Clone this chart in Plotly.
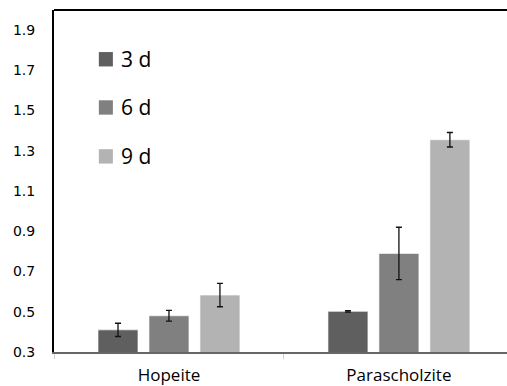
import plotly.graph_objects as go

categories = ["Hopeite", "Parascholzite"]
series_names = ["3 d", "6 d", "9 d"]
values = {
    "3 d": [0.41, 0.502],
    "6 d": [0.48, 0.79],
    "9 d": [0.583, 1.355],
}
errors = {
    "3 d": [0.033, 0.004],
    "6 d": [0.027, 0.13],
    "9 d": [0.058, 0.036],
}
colors = {"3 d": "#5f5f5f", "6 d": "#808080", "9 d": "#b3b3b3"}
y_ticks = [0.3, 0.5, 0.7, 0.9, 1.1, 1.3, 1.5, 1.7, 1.9]

fig = go.Figure()
for name in series_names:
    fig.add_trace(go.Bar(
        x=categories,
        y=values[name],
        name=name,
        marker=dict(color=colors[name], line=dict(color="rgba(255,255,255,0.6)", width=1)),
        error_y=dict(type="data", array=errors[name], visible=True,
                     color="#111111", thickness=1.3, width=3),
        showlegend=False,
    ))

# legend drawn as squares + labels in the upper-left of the plot
legend_y = [0.856, 0.715, 0.572]
for name, ly in zip(series_names, legend_y):
    fig.add_shape(type="rect", xref="paper", yref="paper",
                  x0=0.099, x1=0.130, y0=ly - 0.021, y1=ly + 0.021,
                  fillcolor=colors[name], line=dict(width=0))
    fig.add_annotation(text=name, xref="paper", yref="paper",
                       x=0.143, y=ly, xanchor="left", yanchor="middle",
                       showarrow=False,
                       font=dict(family="Open Sans", size=21, color="#000000"))

# frame line across the top
fig.add_shape(type="line", xref="paper", yref="paper",
              x0=0, x1=1, y0=1, y1=1, line=dict(color="black", width=2))

fig.update_layout(
    width=507, height=386,
    margin=dict(l=54, r=0, t=10, b=34, autoexpand=False),
    plot_bgcolor="white", paper_bgcolor="white",
    barmode="group", bargap=0.335, bargroupgap=0.216,
    xaxis=dict(
        range=[-0.5, 1.47],
        automargin=False,
        showline=True, linecolor="#666666", linewidth=1.5,
        ticks="outside", tickson="boundaries", ticklen=5, tickcolor="#d0d0d0",
        showgrid=False, zeroline=False,
        ticklabelstandoff=7,
        tickfont=dict(family="Open Sans", size=17, color="#000000"),
    ),
    yaxis=dict(
        range=[0.3, 2.0],
        automargin=False,
        tickvals=y_ticks,
        ticktext=[f"{v:.1f}" for v in y_ticks],
        showline=True, linecolor="black", linewidth=2,
        showgrid=False, zeroline=False,
        ticks="", ticklabelstandoff=14,
        tickfont=dict(family="DejaVu Sans", size=14, color="#000000"),
    ),
)

fig.write_html("out.html")
